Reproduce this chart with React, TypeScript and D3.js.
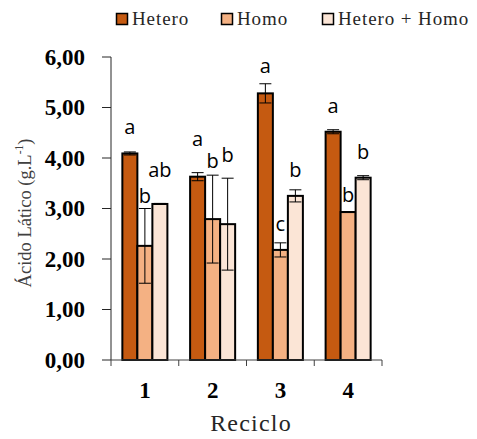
import React from "react";
import * as d3 from "d3";

// ciclos de reciclo
const cycles = ["1", "2", "3", "4"];
const series = ["Hetero", "Homo", "Hetero + Homo"];
const colors = ["#C55A11", "#F4B183", "#FBE5D6"];

// média e desvio (g.L-1)
const hetero = [4.09, 3.63, 5.28, 4.52];
const heteroErr = [0.03, 0.08, 0.19, 0.04];
const homo = [2.26, 2.79, 2.18, 2.93];
const homoErr = [0.74, 0.87, 0.14, 0.01];
const mix = [3.09, 2.69, 3.25, 3.61];
const mixErr = [0.01, 0.91, 0.12, 0.04];

// letras de significância e altura (em g.L-1) onde ficam
const heteroLetters = ["a", "a", "a", "a"];
const homoLetters = ["b", "b", "c", "b"];
const mixLetters = ["ab", "b", "b", "b"];
const heteroLetterAt = [4.47, 4.24, 5.68, 4.9];
const homoLetterAt = [3.1, 3.8, 2.56, 3.12];
const mixLetterAt = [3.63, 3.93, 3.63, 3.99];

const yTicks = [0, 1, 2, 3, 4, 5, 6];

const W = 477;
const H = 439;
const margin = { top: 57, right: 95, bottom: 79, left: 111 };

const serif = "'Liberation Serif', 'Times New Roman', serif";
const sans = "'Open Sans', 'Noto Sans', sans-serif";

const ptLocale = d3.formatLocale({ decimal: ",", thousands: ".", grouping: [3], currency: ["R$", ""] });
const fmt = ptLocale.format(".2f");

export default function App() {
  const x = d3.scaleBand().domain(cycles).range([margin.left, W - margin.right]).padding(0);
  const xs = d3.scaleBand().domain(series).range([0, x.bandwidth()]).paddingInner(0).paddingOuter(0.757);
  const y = d3.scaleLinear().domain([0, 6]).range([H - margin.bottom, margin.top]);

  const values = [hetero, homo, mix];
  const errs = [heteroErr, homoErr, mixErr];
  const letters = [heteroLetters, homoLetters, mixLetters];
  const letterAt = [heteroLetterAt, homoLetterAt, mixLetterAt];

  const rows = cycles.flatMap((c, i) =>
    series.map((s, j) => ({
      c,
      s,
      j,
      v: values[j][i],
      e: errs[j][i],
      l: letters[j][i],
      la: letterAt[j][i],
    }))
  );

  const bw = xs.bandwidth();
  const capW = 12;
  const legendX = [116, 221, 322];

  return (
    <div style={{ position: "absolute", left: 0, top: 0 }}>
      <svg width={W} height={H} style={{ display: "block", background: "#fff" }}>
        {/* legenda */}
        {series.map((s, j) => (
          <g key={s} transform={`translate(${legendX[j]},13)`}>
            <rect x={0.5} y={0.5} width={11} height={11} fill={colors[j]} stroke="#000" strokeWidth={1.5} />
            <text x={16} y={12} fontFamily={serif} fontSize={19} letterSpacing={0.9} fill="#262626">
              {s}
            </text>
          </g>
        ))}

        {/* eixo y */}
        <line x1={margin.left} x2={margin.left} y1={y(6)} y2={y(0)} stroke="#262626" strokeWidth={1} />
        {yTicks.map((t) => (
          <g key={t}>
            <line x1={margin.left - 9} x2={margin.left} y1={y(t)} y2={y(t)} stroke="#262626" strokeWidth={1} />
            <text
              x={margin.left - 26}
              y={y(t)}
              dy="0.34em"
              textAnchor="end"
              fontFamily={serif}
              fontWeight="bold"
              fontSize={23}
              fill="#000"
            >
              {fmt(t)}
            </text>
          </g>
        ))}

        {/* barras */}
        {rows.map((r) => (
          <rect
            key={r.c + r.s}
            x={(x(r.c) as number) + (xs(r.s) as number)}
            y={y(r.v)}
            width={bw}
            height={y(0) - y(r.v)}
            fill={colors[r.j]}
            stroke="#000"
            strokeWidth={2}
          />
        ))}

        {/* barras de erro */}
        {rows.map((r) => {
          const cx = (x(r.c) as number) + (xs(r.s) as number) + bw / 2;
          return (
            <g key={"e" + r.c + r.s} stroke="#000" strokeWidth={1}>
              <line x1={cx} x2={cx} y1={y(r.v + r.e)} y2={y(r.v - r.e)} />
              <line x1={cx - capW / 2} x2={cx + capW / 2} y1={y(r.v + r.e)} y2={y(r.v + r.e)} />
              <line x1={cx - capW / 2} x2={cx + capW / 2} y1={y(r.v - r.e)} y2={y(r.v - r.e)} />
            </g>
          );
        })}

        {/* letras */}
        {rows.map((r) => (
          <text
            key={"l" + r.c + r.s}
            x={(x(r.c) as number) + (xs(r.s) as number) + bw / 2}
            y={y(r.la)}
            textAnchor="middle"
            fontFamily={sans}
            fontSize={20}
            fill="#000"
          >
            {r.l}
          </text>
        ))}

        {/* eixo x */}
        <line x1={margin.left} x2={W - margin.right} y1={y(0)} y2={y(0)} stroke="#404040" strokeWidth={1} />
        {[...cycles.map((c) => x(c) as number), W - margin.right].map((px, i) => (
          <line key={i} x1={px} x2={px} y1={y(0)} y2={y(0) + 6} stroke="#404040" strokeWidth={1} />
        ))}
        {cycles.map((c) => (
          <text
            key={c}
            x={(x(c) as number) + x.bandwidth() / 2}
            y={397.5}
            textAnchor="middle"
            fontFamily={serif}
            fontWeight="bold"
            fontSize={23}
            fill="#000"
          >
            {c}
          </text>
        ))}

        {/* títulos */}
        <text x={251} y={431} textAnchor="middle" fontFamily={serif} fontSize={24} letterSpacing={1.2} fill="#262626">
          Reciclo
        </text>
        <text
          transform={`translate(31,213) rotate(-90)`}
          textAnchor="middle"
          fontFamily={serif}
          fontSize={18.5}
          fill="#404040"
        >
          Ácido Lático (g.L
          <tspan fontSize={11.5} dy={-8}>-1</tspan>
          <tspan dy={8}>)</tspan>
        </text>
      </svg>
    </div>
  );
}
